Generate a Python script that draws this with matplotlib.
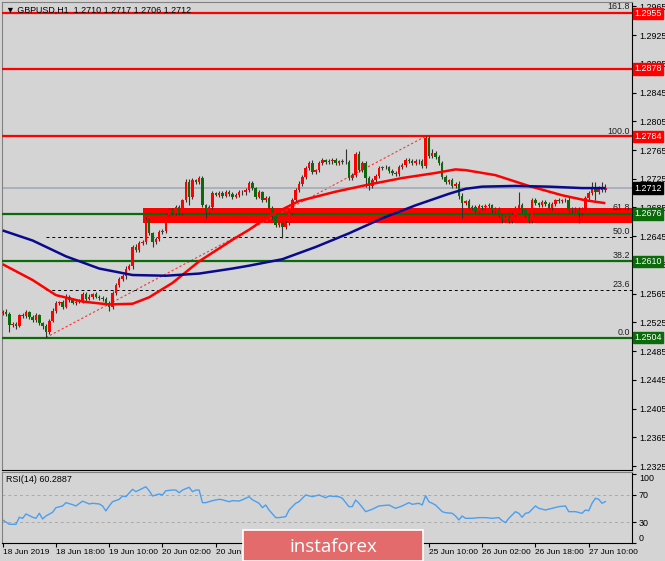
import numpy as np
import matplotlib.pyplot as plt
from matplotlib.patches import Rectangle
import matplotlib.transforms as mtransforms

BG = '#d4d4d4'
plt.rcParams['font.family'] = ['Liberation Sans', 'DejaVu Sans']
FS = 6.4

# ---- GBPUSD H1, 18 Jun 02:00 .. 27 Jun 15:00 ----
header = "\u25BC GBPUSD,H1  1.2710 1.2717 1.2706 1.2712"
first_open = 1.2538
closes = [
    1.2540, 1.2537, 1.2521, 1.2523, 1.2520, 1.2535, 1.2534, 1.2539, 1.2533, 1.2528,
    1.2535, 1.2524, 1.2520, 1.2512, 1.2527, 1.2541, 1.2552, 1.2553, 1.2547, 1.2561,
    1.2556, 1.2552, 1.2554, 1.2555, 1.2565, 1.2558, 1.2561, 1.2564, 1.2561, 1.2559,
    1.2558, 1.2552, 1.2547, 1.2566, 1.2577, 1.2586, 1.2589, 1.2600, 1.2603, 1.2630,
    1.2626, 1.2635, 1.2637, 1.2668, 1.2649, 1.2637, 1.2641, 1.2651, 1.2652, 1.2675,
    1.2681, 1.2677, 1.2686, 1.2677, 1.2695, 1.2721, 1.2700, 1.2723, 1.2720, 1.2726,
    1.2688, 1.2679, 1.2686, 1.2705, 1.2703, 1.2705, 1.2701, 1.2707, 1.2704, 1.2700,
    1.2702, 1.2707, 1.2706, 1.2709, 1.2719, 1.2712, 1.2700, 1.2706, 1.2695, 1.2698,
    1.2684, 1.2673, 1.2661, 1.2663, 1.2658, 1.2663, 1.2677, 1.2695, 1.2709, 1.2718,
    1.2727, 1.2740, 1.2747, 1.2734, 1.2737, 1.2747, 1.2751, 1.2748, 1.2749, 1.2751,
    1.2747, 1.2749, 1.2748, 1.2748, 1.2726, 1.2730, 1.2760, 1.2737, 1.2747, 1.2726,
    1.2715, 1.2723, 1.2729, 1.2740, 1.2741, 1.2741, 1.2736, 1.2733, 1.2732, 1.2741,
    1.2744, 1.2751, 1.2750, 1.2747, 1.2750, 1.2749, 1.2743, 1.2782, 1.2757, 1.2761,
    1.2755, 1.2747, 1.2727, 1.2720, 1.2723, 1.2715, 1.2718, 1.2701, 1.2691, 1.2694,
    1.2684, 1.2686, 1.2680, 1.2687, 1.2685, 1.2687, 1.2688, 1.2681, 1.2683, 1.2673,
    1.2668, 1.2672, 1.2666, 1.2675, 1.2684, 1.2688, 1.2681, 1.2673, 1.2666, 1.2695,
    1.2691, 1.2688, 1.2693, 1.2690, 1.2684, 1.2690, 1.2695, 1.2694, 1.2695, 1.2695,
    1.2681, 1.2683, 1.2682, 1.2677, 1.2684, 1.2698, 1.2705, 1.2714, 1.2707, 1.2712,
    1.2710, 1.2712,
]
# wick lengths in pips above / below the body
wick_up = [
    2, 3, 3, 2, 3, 2, 3, 3, 2, 3,  3, 2, 2, 3, 3, 4, 3, 2, 3, 3,
    2, 3, 2, 3, 3, 2, 3, 2, 3, 2,  3, 2, 3, 3, 3, 2, 3, 3, 4, 3,
    4, 3, 3, 4, 3, 2, 3, 2, 3, 3,  3, 3, 2, 3, 2, 3, 4, 3, 2, 3,
    3, 2, 3, 3, 2, 3, 3, 2, 3, 2,  3, 2, 3, 3, 3, 3, 2, 3, 2, 3,
    3, 3, 2, 3, 2, 3, 3, 3, 3, 4,  3, 3, 3, 4, 2, 3, 3, 2, 3, 3,
    3, 2, 3, 18, 3, 3, 2, 3, 3, 3, 3, 3, 3, 3, 2, 3, 2, 3, 3, 3,
    3, 3, 3, 2, 3, 3, 3, 2, 3, 5,  3, 3, 3, 3, 2, 3, 3, 4, 4, 2,
    3, 2, 3, 3, 2, 3, 3, 2, 3, 3,  3, 3, 2, 3, 3, 19, 3, 2, 3, 3,
    3, 2, 3, 2, 3, 3, 2, 3, 2, 3,  4, 2, 3, 3, 2, 3, 3, 7, 7, 3,
    9, 5,
]
wick_dn = [
    3, 3, 10, 3, 4, 2, 3, 3, 3, 3, 3, 3, 4, 8, 3, 2, 3, 3, 3, 2,
    3, 2, 3, 2, 3, 3, 2, 3, 2, 3,  3, 3, 6, 3, 3, 2, 3, 3, 2, 3,
    3, 3, 2, 3, 3, 7, 3, 3, 3, 3,  3, 3, 3, 3, 3, 3, 12, 3, 3, 3,
    3, 9, 3, 3, 2, 3, 3, 2, 3, 3,  2, 3, 3, 3, 3, 3, 3, 2, 3, 3,
    3, 4, 3, 3, 16, 3, 3, 3, 2, 3, 3, 3, 3, 3, 3, 3, 3, 3, 2, 3,
    3, 3, 3, 3, 3, 3, 3, 3, 3, 12, 6, 3, 3, 3, 3, 2, 3, 3, 3, 3,
    3, 3, 3, 3, 3, 3, 3, 3, 3, 3,  3, 3, 3, 3, 3, 3, 3, 4, 21, 3,
    3, 3, 3, 3, 3, 3, 3, 3, 3, 3,  4, 3, 3, 3, 3, 3, 3, 3, 3, 3,
    3, 3, 3, 3, 3, 3, 3, 3, 3, 3,  3, 3, 3, 14, 3, 3, 3, 3, 12, 3,
    3, 4,
]

# moving averages
ma_red_bar = [0, 9, 16, 24, 32, 39, 44, 51, 59, 69, 74, 80, 89, 100, 110, 120,
              130, 136, 139, 148, 158, 168, 175, 181]
ma_red = [1.2606, 1.2584, 1.2563, 1.2554, 1.2550, 1.2551, 1.2560, 1.2580, 1.2610,
          1.2640, 1.2654, 1.2673, 1.2694, 1.2707, 1.2717, 1.2726, 1.2733, 1.2738,
          1.2737, 1.2730, 1.2715, 1.2702, 1.2695, 1.2691]
ma_blue_bar = [0, 9, 19, 29, 39, 49, 59, 69, 74, 84, 94, 104, 114, 124, 134, 139,
               144, 154, 164, 174, 181]
ma_blue = [1.2653, 1.2639, 1.2617, 1.2600, 1.2591, 1.2590, 1.2593, 1.2600, 1.2604,
           1.2613, 1.2630, 1.2649, 1.2670, 1.2688, 1.2704, 1.2711, 1.2714, 1.2715,
           1.2714, 1.2712, 1.2712]

# RSI(14)
rsi_bar = [0, 2, 4, 5, 6, 7, 9, 10, 11, 12, 13, 15, 16, 18, 19, 21, 22, 24, 26, 27,
           29, 30, 31, 32, 33, 35, 36, 37, 39, 40, 41, 43, 44, 45, 47, 48, 49, 51, 52, 53,
           54, 56, 57, 58, 59, 60, 61, 63, 65, 66, 68, 69, 71, 72, 74, 75, 77, 78, 79, 80,
           82, 83, 85, 86, 88, 89, 91, 93, 95, 97, 98, 101, 102, 104, 105, 106, 107, 108,
           109, 111, 113, 116, 118, 120, 122, 123, 125, 126, 127, 128, 129, 130, 132, 133,
           135, 136, 137, 138, 139, 141, 143, 145, 147, 149, 150, 151, 152, 154, 155, 156,
           157, 158, 160, 161, 163, 165, 167, 169, 170, 172, 174, 175, 176, 177, 178, 179,
           180, 181]
rsi_val = [33.6, 27.3, 27.3, 37.5, 36.0, 42.3, 37.5, 36.0, 43.3, 35.0, 39.4, 44.8, 51.5,
           54.0, 58.8, 55.9, 54.0, 61.0, 56.9, 57.9, 56.9, 54.0, 46.7, 54.0, 60.2, 63.7,
           68.5, 67.5, 78.3, 74.8, 77.2, 82.0, 76.2, 68.5, 71.4, 70.0, 76.2, 77.2, 77.2,
           73.3, 77.2, 81.2, 74.8, 77.2, 77.2, 58.8, 58.8, 61.7, 63.7, 63.0, 60.2, 61.7,
           61.2, 63.0, 67.5, 63.0, 57.9, 51.5, 55.4, 48.1, 37.0, 37.0, 38.4, 48.1, 57.9,
           60.2, 70.0, 67.5, 70.0, 66.0, 68.5, 67.5, 65.2, 53.0, 53.0, 62.7, 57.9, 52.0,
           45.7, 49.2, 54.0, 55.4, 50.6, 54.0, 58.8, 56.4, 57.9, 55.4, 69.0, 60.2, 57.9,
           55.4, 45.7, 44.2, 43.3, 39.4, 33.6, 39.4, 36.0, 36.0, 37.0, 37.0, 36.0, 37.0,
           32.6, 29.7, 36.0, 45.7, 43.3, 37.5, 43.3, 44.2, 54.0, 50.6, 48.1, 50.6, 53.0,
           54.0, 45.7, 45.7, 43.3, 48.1, 47.0, 57.9, 65.2, 63.7, 57.9, 60.3]
rsi_last = "60.2887"

# horizontal levels and zone
red_levels = [1.2955, 1.2878, 1.2784]
green_levels = [1.2676, 1.2610, 1.2504]
bid = 1.2712
zone_lo, zone_hi, zone_start = 1.2664, 1.2684, 42
fib_low, fib_high = 1.2504, 1.2784
fib_low_bar, fib_high_bar = 13, 127
fib_ratios = [0.0, 23.6, 38.2, 50.0, 61.8, 100.0, 161.8]

time_ticks = [0, 16, 32, 48, 64, 128, 144, 160, 176]
time_labels = ["18 Jun 2019", "18 Jun 18:00", "19 Jun 10:00", "20 Jun 02:00",
               "20 Jun 18:00", "25 Jun 10:00", "26 Jun 02:00", "26 Jun 18:00",
               "27 Jun 10:00"]

# ---- derived OHLC ----
closes = np.array(closes)
opens = np.concatenate([[first_open], closes[:-1]])
highs = np.maximum(opens, closes) + np.array(wick_up) * 1e-4
lows = np.minimum(opens, closes) - np.array(wick_dn) * 1e-4
x = np.arange(len(closes))

# ---- figure ----
W, H = 665, 561
fig = plt.figure(figsize=(W / 100, H / 100), dpi=100, facecolor=BG)
ax = fig.add_axes([2 / W, 1 - 470 / H, 630 / W, 468 / H], facecolor=BG)
rx = fig.add_axes([2 / W, 1 - 543 / H, 630 / W, 71 / H], facecolor=BG, sharex=ax)

XMIN, XMAX = -0.2, 189.0
ax.set_xlim(XMIN, XMAX)
ax.set_ylim(1.23196, 1.29710)

# zone
ax.add_patch(Rectangle((zone_start, zone_lo), XMAX - zone_start, zone_hi - zone_lo,
                       color='#ff0000', lw=0, zorder=1))

# fibonacci
bt = mtransforms.blended_transform_factory(ax.transAxes, ax.transData)
for r in fib_ratios:
    lv = fib_low + r / 100 * (fib_high - fib_low)
    ax.plot([fib_low_bar, XMAX], [lv, lv], color='black', ls=(0, (3, 3)), lw=0.7, zorder=2)
    ax.text(0.997, lv + 0.0001, f'{r:.1f}', transform=bt,
            ha='right', va='bottom', fontsize=FS, color='#202020', zorder=6)
ax.plot([fib_low_bar, fib_high_bar], [fib_low, fib_high], color='#ff3030', ls=(0, (2, 2)), lw=0.8, zorder=2)

# level lines
ax.axhline(bid, color='#a6adba', lw=1.3, zorder=2)
for lv in red_levels:
    ax.axhline(lv, color='#ff0000', lw=1.6, zorder=3)
for lv in green_levels:
    ax.axhline(lv, color='#0b6b0b', lw=1.6, zorder=3)

# candles
ax.vlines(x, lows, highs, color='#333333', lw=0.8, zorder=4)
body_lo = np.minimum(opens, closes)
body_h = np.maximum(np.abs(closes - opens), 0.00007)
colors = np.where(closes > opens, '#ff0000', np.where(closes < opens, '#0b6b0b', '#555555'))
ax.bar(x, body_h, bottom=body_lo, width=0.75, color=colors, edgecolor='none', zorder=5)

# moving averages
ax.plot(ma_red_bar, ma_red, color='#ff0000', lw=1.8, zorder=6, solid_capstyle='butt')
ax.plot(ma_blue_bar, ma_blue, color='#0a0a8c', lw=1.8, zorder=6, solid_capstyle='butt')

# axes styling
yt = np.arange(1.2325, 1.2966, 0.004)
ax.set_yticks(yt)
ax.set_yticklabels([f'{v:.4f}' for v in yt])
ax.yaxis.tick_right()
ax.tick_params(axis='y', direction='out', length=3, width=0.8, pad=2, labelsize=FS, colors='black')
ax.tick_params(axis='x', bottom=False, labelbottom=False)
for s in ['top', 'left']:
    ax.spines[s].set_color('#808080')
for s in ['right', 'bottom']:
    ax.spines[s].set_color('black')

# price boxes
box_levels = [(lv, '#ff0000') for lv in red_levels] + [(lv, '#0b6b0b') for lv in green_levels] + [(bid, 'black')]
for lv, c in box_levels:
    ax.text(1.004, lv, f'{lv:.4f}', transform=bt, ha='left', va='center', fontsize=FS, color='white',
            bbox=dict(boxstyle='square,pad=0.15', fc=c, ec=c), zorder=10, clip_on=False)

ax.text(0.006, 0.992, header, transform=ax.transAxes, ha='left', va='top', fontsize=FS)

# ---- RSI panel ----
rx.set_ylim(0, 103.5)
for lv in [70, 30]:
    rx.axhline(lv, color='#a9a9a9', ls=(0, (3, 3)), lw=0.7)
rx.plot(rsi_bar, rsi_val, color='#4a9ff0', lw=1.0)
rx.text(0.006, 0.96, f'RSI(14) {rsi_last}', transform=rx.transAxes, ha='left', va='top', fontsize=FS)
rx.yaxis.tick_right()
rx.set_yticks([100, 70, 30, 0])
rx.set_yticklabels(['100', '70', '30', '0'])
rx.tick_params(axis='y', direction='out', length=3, width=0.8, pad=2, labelsize=FS)
lbls = rx.get_yticklabels()
lbls[0].set_va('top')
lbls[-1].set_va('bottom')
rx.set_xticks(time_ticks)
rx.set_xticklabels(time_labels, ha='left')
rx.tick_params(axis='x', direction='out', length=3, width=0.8, pad=1, labelsize=6.0)
for s in ['top', 'left']:
    rx.spines[s].set_color('#808080')
for s in ['right', 'bottom']:
    rx.spines[s].set_color('black')

# ---- watermark ----
fig.patches.append(Rectangle((243 / W, 0), 180 / W, 31 / H, transform=fig.transFigure,
                             fc='#e36b6b', ec='white', lw=1.2, zorder=20))
fig.text(333 / W, 14 / H, 'instaforex', ha='center', va='center', fontsize=13.5, color='white',
         family=['Open Sans', 'DejaVu Sans'], zorder=21)

fig.savefig('out.png', dpi=100, facecolor=BG)
